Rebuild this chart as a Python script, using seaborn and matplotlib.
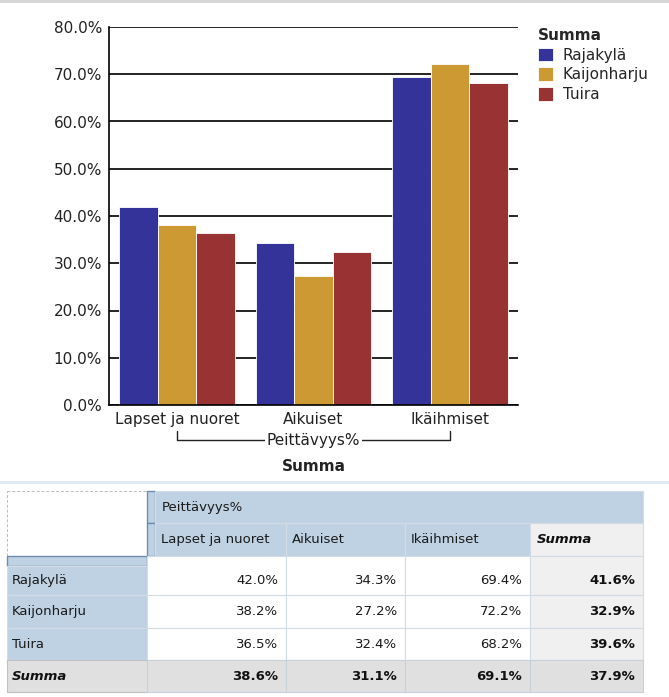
"""Peittävyys% alueittain: pylväskaavio ja ristiintaulukko (Rajakylä, Kaijonharju, Tuira)."""

import matplotlib
matplotlib.use("Agg")
import matplotlib.pyplot as plt
import matplotlib.patches as mpatches
from matplotlib.ticker import PercentFormatter
from matplotlib.transforms import blended_transform_factory
import pandas as pd
import seaborn as sns

# --- data ---
ryhmat = ["Lapset ja nuoret", "Aikuiset", "Ikäihmiset"]
alueet = ["Rajakylä", "Kaijonharju", "Tuira"]
rajakyla = [42.0, 34.3, 69.4]
kaijonharju = [38.2, 27.2, 72.2]
tuira = [36.5, 32.4, 68.2]
rivisummat = [41.6, 32.9, 39.6]
sarakesummat = [38.6, 31.1, 69.1]
kokonaissumma = 37.9

varit = ["#333399", "#CC9933", "#993333"]
SININEN = "#BFD2E3"
REUNA = "#6F8DAE"
VIIVA = "#D3DBE4"

W, H = 669, 697

sns.set_theme(style="white")
plt.rcParams["font.family"] = ["DejaVu Sans"]

df = pd.DataFrame({
    "ryhmä": ryhmat * 3,
    "alue": [a for a in alueet for _ in ryhmat],
    "arvo": rajakyla + kaijonharju + tuira,
})

fig = plt.figure(figsize=(W / 100, H / 100), dpi=100)


def px_axes(left, top, right, bottom):
    return fig.add_axes([left / W, 1 - bottom / H, (right - left) / W, (bottom - top) / H])


# --- pylväskaavio ---
ax = px_axes(109, 27, 518, 405)
sns.barplot(data=df, x="ryhmä", y="arvo", hue="alue", palette=varit, width=0.85,
            saturation=1, edgecolor="white", linewidth=0.6, ax=ax)
ax.set_xlim(-0.5, 2.5)
ax.set_ylim(0, 80)
ax.set_yticks(range(0, 81, 10))
ax.yaxis.set_major_formatter(PercentFormatter(decimals=1))
ax.yaxis.grid(True, color="black", lw=1.2)
ax.set_axisbelow(True)
for s in ["top", "right"]:
    ax.spines[s].set_visible(False)
for s in ["left", "bottom"]:
    ax.spines[s].set_color("black")
    ax.spines[s].set_linewidth(1.2)
ax.tick_params(length=0, labelsize=11, colors="#222222", pad=5)
ax.set_xlabel("")
ax.set_ylabel("")

# kategoria-akselin haarukka
tr = blended_transform_factory(ax.transData, ax.transAxes)
ax.plot([0, 0, 2, 2], [-0.069, -0.093, -0.093, -0.069], color="#222222", lw=1,
        transform=tr, clip_on=False)
ax.text(1, -0.093, "Peittävyys%", transform=tr, ha="center", va="center",
        fontsize=11, color="#222222",
        bbox=dict(facecolor="white", edgecolor="none", pad=1.5))
ax.text(1, -0.162, "Summa", transform=tr, ha="center", va="center",
        fontsize=11, fontweight="bold", color="#222222")

sns.move_legend(ax, "upper left", bbox_to_anchor=(532 / W, 1 - 22 / H),
                bbox_transform=fig.transFigure, frameon=False, title="Summa",
                fontsize=11, title_fontsize=11, handlelength=1.0,
                handleheight=1.0, handletextpad=0.6, labelspacing=0.3,
                borderaxespad=0)
leg = ax.get_legend()
leg.get_title().set_fontweight("bold")
leg._legend_box.align = "left"

# --- taulukko ---
tx = fig.add_axes([0, 0, 1, 1], zorder=-1)
tx.set_xlim(0, W)
tx.set_ylim(H, 0)
tx.axis("off")


def solu(x0, y0, x1, y1, fc, ec=VIIVA, lw=0.8, ls="-"):
    tx.add_patch(mpatches.Rectangle((x0, y0), x1 - x0, y1 - y0, facecolor=fc,
                                    edgecolor=ec, lw=lw, ls=ls))


# yläreunan viivat
tx.add_patch(mpatches.Rectangle((0, 0), W, 2.5, facecolor="#D6D6D6", edgecolor="none"))
tx.add_patch(mpatches.Rectangle((0, 481), W, 2.5, facecolor="#E2EBF2", edgecolor="none"))

sarakkeet = [147, 286, 405, 530, 643]
ylä, otsake, data_ylä = 491, 523, 556
rivit = [(556, 595), (595, 628), (628, 660)]
summarivi = (660, 692)
fs = 9.5

# kulma ja kahvat
solu(7, ylä, 147, data_ylä, "white", ec="#BBBBBB", lw=0.7, ls=(0, (3, 2)))
solu(147, ylä, 155, otsake, SININEN, ec=REUNA, lw=1)
solu(147, otsake, 155, data_ylä, SININEN, ec=REUNA, lw=1)
solu(7, 556, 147, 566, SININEN, ec=REUNA, lw=1)

solu(155, ylä, 643, otsake, SININEN)
tx.text(162, (ylä + otsake) / 2, "Peittävyys%", ha="left", va="center", fontsize=fs,
        color="#1a1a1a")
for i, r in enumerate(ryhmat):
    x0 = 155 if i == 0 else sarakkeet[i]
    solu(x0, otsake, sarakkeet[i + 1], data_ylä, SININEN)
    tx.text(x0 + 6, (otsake + data_ylä) / 2, r, ha="left", va="center", fontsize=fs,
            color="#1a1a1a")
solu(530, otsake, 643, data_ylä, "#F0F0F0")
tx.text(537, (otsake + data_ylä) / 2, "Summa", ha="left", va="center", fontsize=fs,
        fontweight="bold", fontstyle="italic", color="#111111")

arvot = [rajakyla, kaijonharju, tuira]
for j, (alue, (y0, y1)) in enumerate(zip(alueet, rivit)):
    hy0 = 566 if j == 0 else y0
    yc = (hy0 + y1) / 2
    solu(7, hy0, 147, y1, SININEN)
    tx.text(12, yc, alue, ha="left", va="center", fontsize=fs, color="#1a1a1a")
    for i in range(3):
        solu(sarakkeet[i], y0, sarakkeet[i + 1], y1, "white")
        tx.text(sarakkeet[i + 1] - 8, yc, f"{arvot[j][i]:.1f}%", ha="right",
                va="center", fontsize=fs, color="#1a1a1a")
    solu(530, y0, 643, y1, "#F0F0F0")
    tx.text(635, yc, f"{rivisummat[j]:.1f}%", ha="right", va="center", fontsize=fs,
            fontweight="bold", color="#111111")

y0, y1 = summarivi
yc = (y0 + y1) / 2
solu(7, y0, 147, y1, "#E0E0E0", ec="#C0C0C0")
tx.text(12, yc, "Summa", ha="left", va="center", fontsize=fs, fontweight="bold",
        fontstyle="italic", color="#111111")
for i in range(3):
    solu(sarakkeet[i], y0, sarakkeet[i + 1], y1, "#E0E0E0", ec="#C8D0D8")
    tx.text(sarakkeet[i + 1] - 8, yc, f"{sarakesummat[i]:.1f}%", ha="right",
            va="center", fontsize=fs, fontweight="bold", color="#111111")
solu(530, y0, 643, y1, "#E0E0E0", ec="#C8D0D8")
tx.text(635, yc, f"{kokonaissumma:.1f}%", ha="right", va="center", fontsize=fs,
        fontweight="bold", color="#111111")

fig.savefig("out.png", dpi=100)
